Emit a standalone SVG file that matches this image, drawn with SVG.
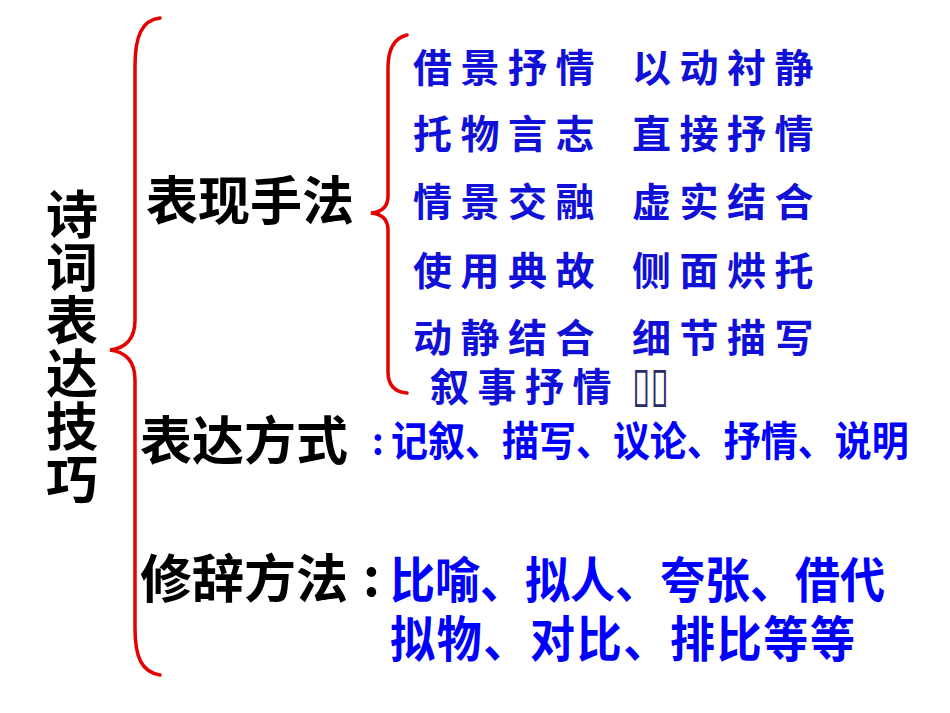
<svg xmlns="http://www.w3.org/2000/svg" width="950" height="713" viewBox="0 0 950 713">
<style>
.h{font-family:"Noto Sans CJK SC","Noto Sans",sans-serif;font-weight:700;fill:#000;font-size:52px}
.k{font-family:"Noto Sans CJK SC","Noto Sans",sans-serif;font-weight:700;fill:#1010D8;font-size:39px;letter-spacing:8.5px}
.b{font-family:"Noto Sans CJK SC","Noto Sans",sans-serif;font-weight:700;fill:#0000FF}
.br{fill:none;stroke:#E60000;stroke-width:3.5;stroke-linecap:round}
</style>
<rect width="950" height="713" fill="#fff"/>
<g id="connectors">
<path class="br" d="M160,18 C142,20 135,36 135,66 L135,320 C135,338 126,348 110,350 C126,352 135,362 135,380 L135,628 C135,658 142,672 160,675"/>
<path class="br" d="M407,35 C394,38 388,50 388,68 L388,196 C388,207 382,212 371,213 C382,214 388,219 388,230 L388,372 C388,385 395,392 407,393"/>
</g>
<g id="title">
<text class="h" x="72" y="188" style="writing-mode:vertical-rl" letter-spacing="1">诗词表达技巧</text>
</g>
<g id="biaoxian">
<text class="h" x="146" y="220">表现手法</text>
</g>
<g id="techniques">
<text class="k" x="413" y="82">借景抒情</text><text class="k" x="632" y="82">以动衬静</text>
<text class="k" x="413" y="148">托物言志</text><text class="k" x="632" y="148">直接抒情</text>
<text class="k" x="413" y="216">情景交融</text><text class="k" x="632" y="216">虚实结合</text>
<text class="k" x="413" y="285">使用典故</text><text class="k" x="632" y="285">侧面烘托</text>
<text class="k" x="413" y="352">动静结合</text><text class="k" x="632" y="352">细节描写</text>
<text class="k" x="430" y="401">叙事抒情</text>
<text transform="translate(632,401) scale(0.8,1.15)" style="font-family:'DejaVu Sans',sans-serif;font-size:42px;fill:#2a2a6a">▯▯</text>
</g>
<g id="biaoda">
<text class="h" x="140" y="460">表达方式</text>
<text class="b" x="372" y="455" font-size="36">:</text>
<text class="b" font-size="37" transform="translate(391,456) scale(1,1.1)">记叙、描写、议论、抒情、说明</text>
</g>
<g id="xiuci">
<text class="h" x="140" y="598">修辞方法</text>
<text class="h" x="363" y="596">:</text>
<text class="b" font-size="45" transform="translate(390,598) scale(1,1.08)"><tspan x="0" y="0">比喻、拟人、夸张、借代</tspan><tspan x="0" y="54.6" textLength="465">拟物、对比、排比等等</tspan></text>
</g>
</svg>
